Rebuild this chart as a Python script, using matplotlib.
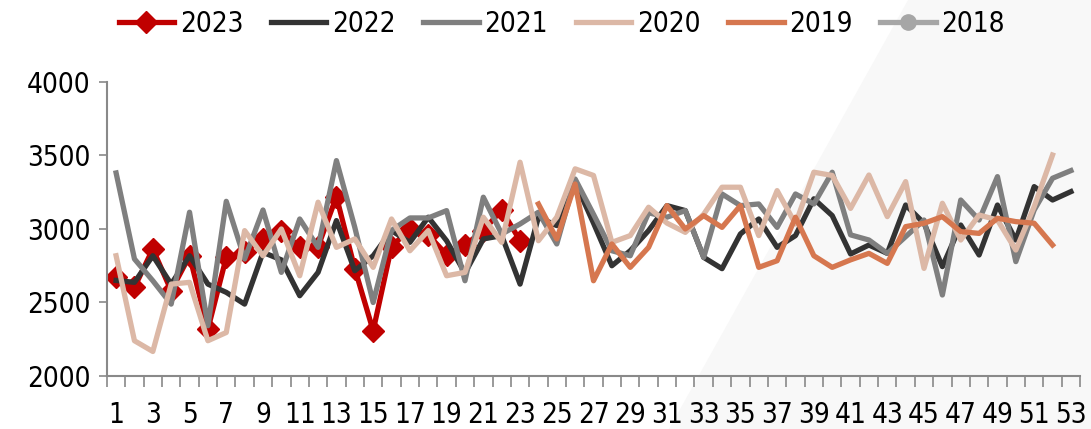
import numpy as np
import matplotlib
matplotlib.use("Agg")
import matplotlib.pyplot as plt
from matplotlib.patches import Polygon
from matplotlib import font_manager

# pick a narrow font if one is installed (reference uses a Calibri-like face)
narrow = [f for f in font_manager.fontManager.ttflist
          if ('Narrow' in f.fname or 'Condensed' in f.fname)
          and f.weight in (400, 'normal', 'regular') and f.style == 'normal']
narrow.sort(key=lambda f: (0 if 'Liberation' in f.fname else 1, f.fname))
if narrow:
    plt.rcParams['font.family'] = [narrow[0].name, 'DejaVu Sans']
    plt.rcParams['font.stretch'] = narrow[0].stretch
    fsize = 20
else:
    plt.rcParams['font.family'] = ['DejaVu Sans']
    fsize = 17

weeks = np.arange(1, 54)

# weekly values, each series starts at week 1 unless noted
y2023 = [2671, 2603, 2864, 2580, 2818, 2319, 2807, 2845, 2932, 2989, 2875, 2880, 3220,
         2730, 2308, 2880, 3000, 2960, 2825, 2890, 2989, 3130, 2920]
y2022 = [2650, 2637, 2818, 2625, 2818, 2625, 2569, 2489, 2841, 2790, 2546, 2705, 3057,
         2716, 2818, 2989, 2909, 3080, 2920, 2700, 2932, 2955, 2625, 3080, 3023, 3318,
         3040, 2750, 2852, 2989, 3159, 3125, 2807, 2730, 2966, 3068, 2875, 2955, 3205,
         3091, 2830, 2891, 2834, 3163, 3039, 2744, 3027, 2823, 3163, 2925, 3288, 3197, 3254]
y2021 = [3381, 2796, 2648, 2489, 3114, 2342, 3188, 2796, 3129, 2705, 3068, 2875, 3465,
         3011, 2500, 2990, 3075, 3075, 3125, 2648, 3216, 2966, 3034, 3114, 2898, 3340,
         3100, 2852, 2818, 3110, 3080, 3125, 2807, 3238, 3159, 3170, 3011, 3238, 3170,
         3386, 2960, 2925, 2834, 2948, 3061, 2551, 3197, 3061, 3356, 2778, 3129, 3345, 3397]
y2020 = [2818, 2240, 2167, 2625, 2637, 2240, 2296, 2989, 2818, 3000, 2682, 3182, 2875,
         2932, 2739, 3068, 2852, 2989, 2682, 2705, 3080, 2909, 3454, 2920, 3080, 3409,
         3364, 2909, 2955, 3148, 3040, 2977, 3100, 3284, 3284, 2955, 3261, 3034, 3386,
         3364, 3140, 3367, 3084, 3322, 2732, 3175, 2925, 3095, 3061, 2857, 3152, 3503]
start2019 = 24
y2019 = [3170, 2932, 3306, 2648, 2898, 2739, 2875, 3159, 3000, 3091, 3011, 3159, 2739,
         2784, 3080, 2818, 2739, 2790, 2834, 2766, 3016, 3039, 3084, 2982, 2970, 3073,
         3050, 3039, 2891]
y2018 = []  # no points visible

fig = plt.figure(figsize=(10.91, 4.29), dpi=100)

# light diagonal panel behind everything
bg = fig.add_axes([0, 0, 1, 1], zorder=-1)
bg.set_xlim(0, 1091)
bg.set_ylim(429, 0)
bg.axis('off')
bg.add_patch(Polygon([[908, 0], [1091, 0], [1091, 429], [669, 429]], closed=True,
                     facecolor='#f8f8f8', edgecolor='none'))

ax = fig.add_axes([0.098, 0.1235, 0.892, 0.6855])
ax.set_facecolor('none')

lw = 3.8
ax.plot(np.arange(1, len(y2023) + 1), y2023, color='#c00000', lw=lw, marker='D',
        markersize=11, label='2023', zorder=2)
ax.plot(np.arange(1, len(y2022) + 1), y2022, color='#333333', lw=lw, label='2022', zorder=3)
ax.plot(np.arange(1, len(y2021) + 1), y2021, color='#7f7f7f', lw=lw, label='2021', zorder=4)
ax.plot(np.arange(1, len(y2020) + 1), y2020, color='#dcb8a6', lw=lw, label='2020', zorder=5)
ax.plot(np.arange(start2019, start2019 + len(y2019)), y2019, color='#d6774f', lw=lw,
        label='2019', zorder=6)
ax.plot(np.arange(1, len(y2018) + 1), y2018, color='#a6a6a6', lw=lw, marker='o',
        markersize=11, label='2018', zorder=7)

ax.set_xlim(0.5, 53.5)
ax.set_ylim(2000, 4000)
ax.set_yticks([2000, 2500, 3000, 3500, 4000])
ax.set_xticks(weeks[::2])
ax.set_xticks(np.arange(0.5, 54, 1), minor=True)
ax.tick_params(axis='x', which='major', length=0, pad=18, labelsize=fsize)
ax.tick_params(axis='x', which='minor', length=8, color='#898989', width=1.2)
ax.tick_params(axis='y', length=6, color='#898989', width=1.2, labelsize=fsize, pad=6)

for s in ['top', 'right']:
    ax.spines[s].set_visible(False)
for s in ['left', 'bottom']:
    ax.spines[s].set_color('#898989')
    ax.spines[s].set_linewidth(1.5)

fig.legend(loc='center', bbox_to_anchor=(0.515, 0.945), ncol=6, frameon=False,
           fontsize=fsize, handlelength=2.0, handletextpad=0.2, columnspacing=1.0)

fig.savefig('out.png', dpi=100)
